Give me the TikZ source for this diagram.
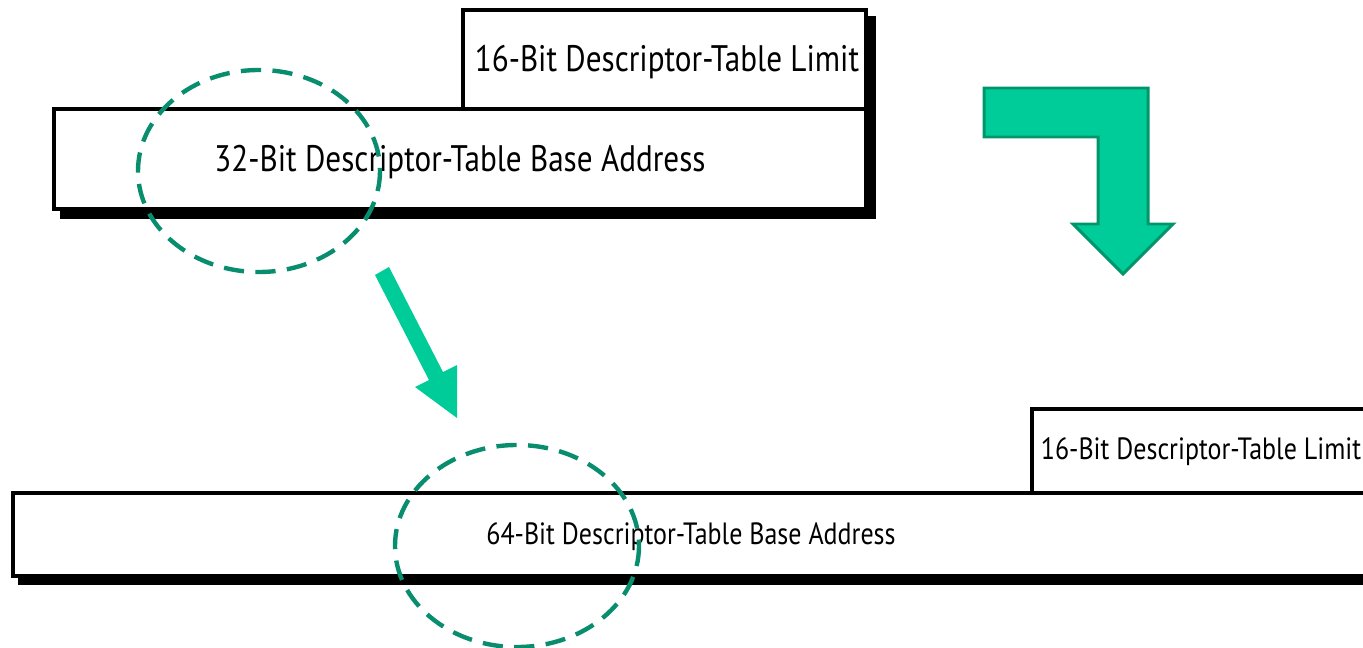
\documentclass[tikz,border=0pt]{standalone}
\usepackage{fontspec}
\setmainfont{PT Sans}[FakeStretch=0.845]
\usepackage{tikz}
\definecolor{arrowfill}{RGB}{0,204,153}
\definecolor{arrowline}{RGB}{0,150,106}
\definecolor{ringline}{RGB}{8,142,110}
\tikzset{
  regbox/.style={draw=black,fill=white},
  regshadow/.style={draw=black,fill=black},
  ring/.style={draw=ringline,line width=2.5pt,dash pattern=on 11.5pt off 6.5pt},
}
\begin{document}
\begin{tikzpicture}[line width=2.2pt,x=0.02cm,y=-0.02cm]
  \clip (0,0) rectangle (1363,648);
      \coordinate (L1) at (463,10);
        \coordinate (L2) at (866,109);
          \coordinate (B1) at (54,109);
            \coordinate (B2) at (866,209);
              \coordinate (M1) at (1032,409);
                \coordinate (M2) at (1390,493);
                  \coordinate (N1) at (13,493);
                    \coordinate (N2) at (1390,576);

  % 32-bit register
  \draw[regshadow] ([shift={(8,8)}]L1) rectangle ([shift={(8,8)}]L2);
  \draw[regshadow] ([shift={(8,8)}]B1) rectangle ([shift={(8,8)}]B2);
  \draw[regbox] (L1) rectangle (L2);
  \draw[regbox] (B1) rectangle (B2);
  \node (lim32) at (667,62) {\fontsize{21}{24}\selectfont 16-Bit Descriptor-Table Limit};
  \node (base32) at (460,162) {\fontsize{21}{24}\selectfont 32-Bit Descriptor-Table Base Address};

  % 64-bit register
  \draw[regshadow] ([shift={(7,7)}]M1) rectangle ([shift={(7,7)}]M2);
  \draw[regshadow] ([shift={(7,7)}]N1) rectangle ([shift={(7,7)}]N2);
  \draw[regbox] (M1) rectangle (M2);
  \draw[regbox] (N1) rectangle (N2);
  \node (lim64) at (1201,452) {\fontsize{17.5}{20}\selectfont 16-Bit Descriptor-Table Limit};
  \node (base64) at (691,537) {\fontsize{17.5}{20}\selectfont 64-Bit Descriptor-Table Base Address};

  \draw[ring] (259,171) ellipse [x radius=121, y radius=101];
  \draw[ring] (517,546) ellipse [x radius=122, y radius=101];

  \fill[arrowfill] (375,275)--(389,267)--(443,372)--(457,365)--(457,418)--(415,387)--(429,380)--cycle;
  \draw[fill=arrowfill,draw=arrowline,line width=1.7pt,line join=miter]
     (984,88)--(1148,88)--(1148,224)--(1173,224)--(1123,274)--(1073,224)--(1098,224)--(1098,137)--(984,137)--cycle;
\end{tikzpicture}
\end{document}
